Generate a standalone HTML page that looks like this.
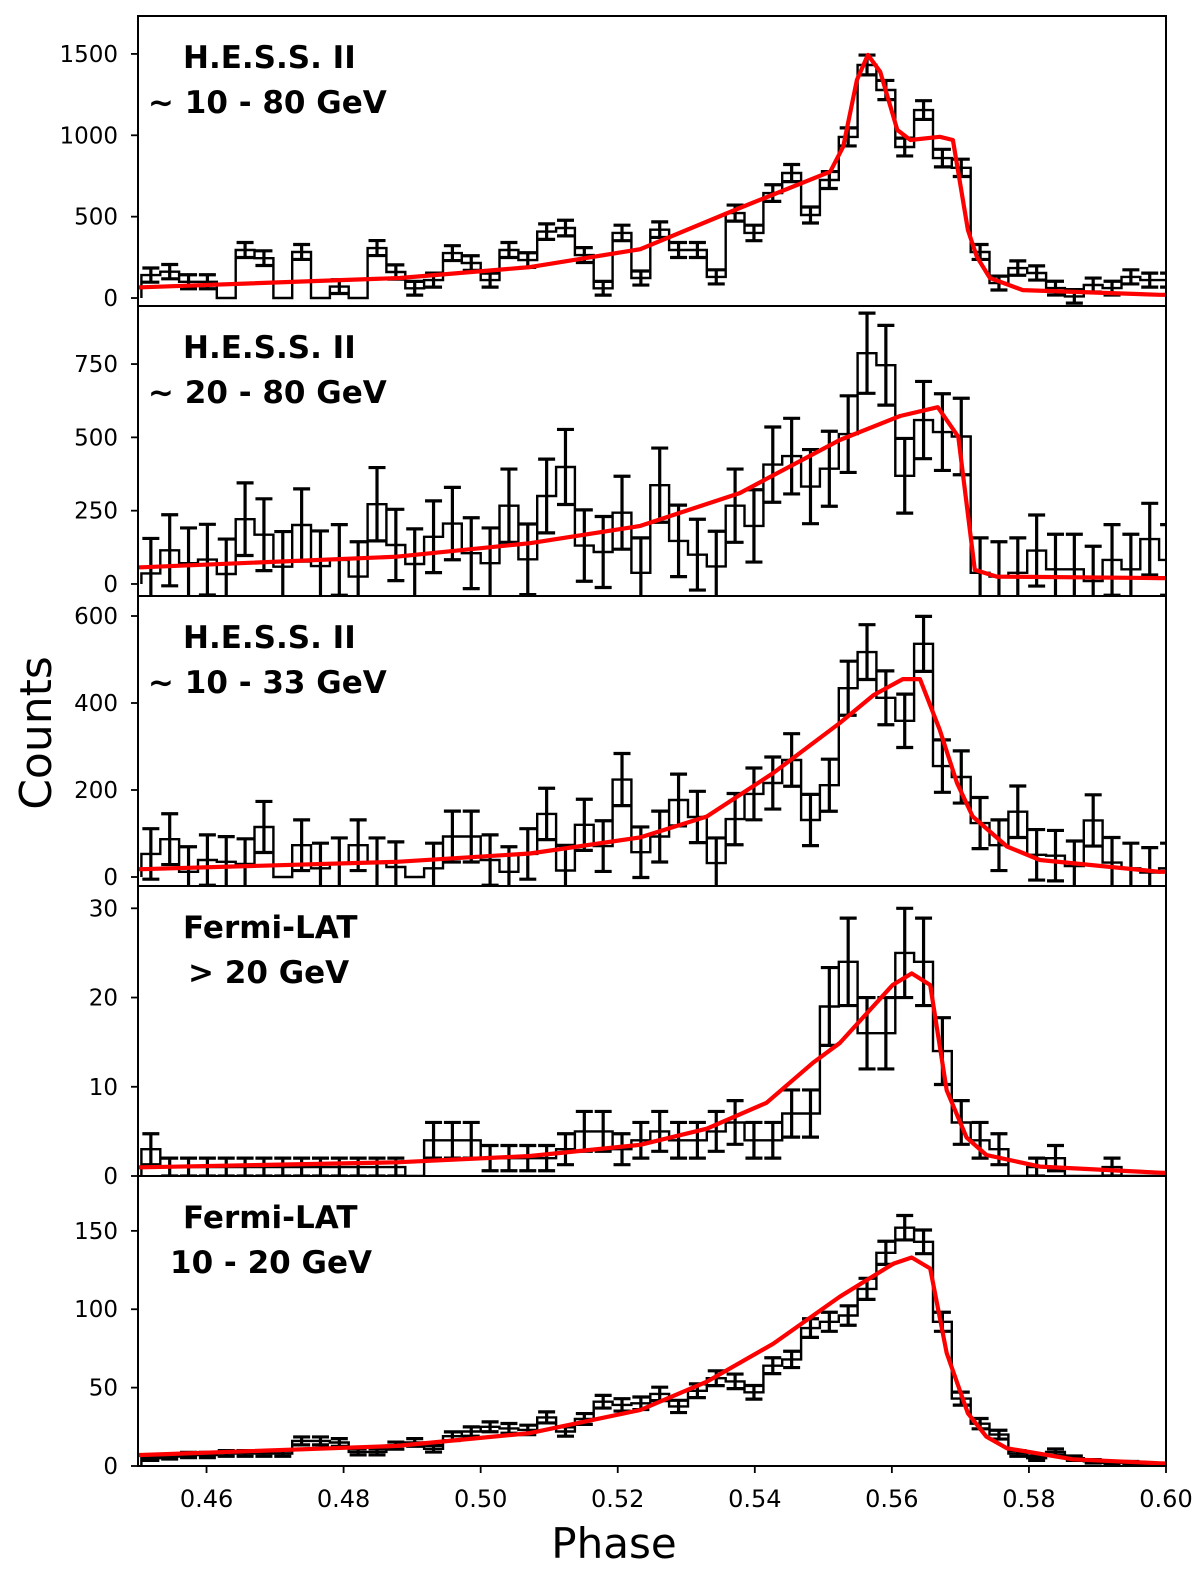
<!DOCTYPE html>
<html><head><meta charset="utf-8">
<style>
html,body{margin:0;padding:0;background:#fff;}
svg{display:block;}
text{font-family:"DejaVu Sans","Liberation Sans",sans-serif;}
</style></head>
<body>
<svg id="chart" width="1200" height="1569" viewBox="0 0 1200 1569" xmlns="http://www.w3.org/2000/svg"></svg>
<script>
// ---- data ----
const binStart = 0.4505;
const binWidth = 0.00275;
const xTicks = [0.46,0.48,0.50,0.52,0.54,0.56,0.58,0.60];
const xTickLabels = ["0.46","0.48","0.50","0.52","0.54","0.56","0.58","0.60"];

const counts1 = [141,162,100,100,0,295,245,0,283,0,70,0,307,160,60,110,276,215,110,295,233,408,430,264,60,400,123,
 420,295,295,130,522,400,645,768,510,725,990,1432,1278,928,1155,860,800,283,92,184,154,61,10,80,61,130,110,110];
const counts2 = [36,115,71,83,34,221,168,59,201,61,82,25,272,133,68,161,206,105,71,267,84,300,399,131,109,243,38,
 337,147,100,60,267,198,407,436,332,393,511,787,746,369,559,518,503,38,25,38,114,50,50,10,82,50,153,82];
const counts3 = [53,87,12,39,35,30,115,0,73,20,32,73,32,23,0,20,93,93,39,12,53,145,15,120,71,224,57,
 93,177,138,32,133,191,216,269,131,211,434,517,412,359,536,255,230,124,73,150,51,49,25,130,33,20,10,20];
const counts4 = [3,1,1,1,1,1,1,1,1,1,1,1,1,1,0,4,4,4,2,2,2,2,3,5,5,3,4,
 5,4,4,5,6,4,4,7,7,19,24,16,16,25,24,14,6,4,3,0,1,2,0,0,1,0,0,0];
const counts5 = [5,6,7,7,8,8,8,8,16,16,15,9,9,13,15,11,19,22,25,24,23,31,22,30,41,39,40,
 46,38,48,56,54,47,64,68,88,92,96,113,136,152,143,92,43,27,20,8,5,9,5,3,2,2,1,1];

const model1Phase = [0.45,0.4505,0.4882,0.5072,0.5233,0.5378,0.5510,0.5529,0.5549,0.5565,0.5583,0.5608,0.5627,0.5670,0.5689,0.5711,0.5724,0.5743,0.5791,0.5991,0.60];
const model1Val   = [65,66,123,190,300,553,776,930,1340,1494,1391,1033,971,991,971,418,254,123,49,20,20];
const model2Phase = [0.45,0.4505,0.4877,0.5072,0.5233,0.5378,0.5524,0.5612,0.5667,0.5697,0.5721,0.5753,0.5991,0.60];
const model2Val   = [57,57,93,139,198,310,491,573,603,502,48,25,20,20];
const model3Phase = [0.45,0.4505,0.4878,0.5072,0.5233,0.5330,0.5427,0.5524,0.5573,0.5616,0.5641,0.5670,0.5695,0.5718,0.5768,0.5816,0.5991,0.60];
const model3Val   = [18,18,35,54,91,139,239,354,418,455,455,338,216,139,70,39,12,12];
const model4Phase = [0.45,0.4505,0.4878,0.5072,0.5233,0.5330,0.5417,0.5485,0.5524,0.5601,0.5629,0.5656,0.5680,0.5709,0.5738,0.5816,0.5991,0.60];
const model4Val   = [0.97,0.97,1.53,2.24,3.5,5.3,8.2,12.7,14.9,21.4,22.7,21.4,9.6,4.3,2.35,1.05,0.37,0.35];
const model5Phase = [0.45,0.4505,0.4878,0.5072,0.5233,0.5330,0.5427,0.5524,0.5602,0.5629,0.5656,0.5680,0.5711,0.5738,0.5768,0.5864,0.5991,0.60];
const model5Val   = [7,7,12.8,21,35.7,53.8,78,108,129,133,126,72,33.6,18.7,11.3,4.3,1.7,1.6];

const yTicks1 = [0,500,1000,1500];
const yTicks2 = [0,250,500,750];
const yTicks3 = [0,200,400,600];
const yTicks4 = [0,10,20,30];
const yTicks5 = [0,50,100,150];

// ---- layout ----
const NS = "http://www.w3.org/2000/svg";
const svg = document.getElementById("chart");
const X0 = 138, X1 = 1166, PMIN = 0.45, PMAX = 0.60;
const PH = 290;
function xScale(p){ return X0 + (p - PMIN) / (PMAX - PMIN) * (X1 - X0); }

const panels = [
  {top:16,  ymin:-49,  ymax:1733, counts:counts1, mp:model1Phase, mv:model1Val, ticks:yTicks1, err:v=>Math.sqrt(1700+1.4*v), l1:"H.E.S.S. II", l2:"∼ 10 - 80 GeV", l1x:183, l2x:148, name:"hess-10-80"},
  {top:306, ymin:-41,  ymax:948,  counts:counts2, mp:model2Phase, mv:model2Val, ticks:yTicks2, err:v=>Math.sqrt(14000+6*v), l1:"H.E.S.S. II", l2:"∼ 20 - 80 GeV", l1x:183, l2x:148, name:"hess-20-80"},
  {top:596, ymin:-20.7,ymax:646,  counts:counts3, mp:model3Phase, mv:model3Val, ticks:yTicks3, err:v=>Math.sqrt(3300+1.3*v), l1:"H.E.S.S. II", l2:"∼ 10 - 33 GeV", l1x:183, l2x:148, name:"hess-10-33"},
  {top:886, ymin:0,    ymax:32.5, counts:counts4, mp:model4Phase, mv:model4Val, ticks:yTicks4, err:v=>Math.sqrt(v), l1:"Fermi-LAT", l2:"> 20 GeV", l1x:183, l2x:188, name:"fermi-gt20"},
  {top:1176,ymin:0,    ymax:185,  counts:counts5, mp:model5Phase, mv:model5Val, ticks:yTicks5, err:v=>Math.sqrt(0.4*v), l1:"Fermi-LAT", l2:"10 - 20 GeV", l1x:183, l2x:170, name:"fermi-10-20"}
];

function mk(tag, attrs, parent){
  const e = document.createElementNS(NS, tag);
  for (const k in attrs) e.setAttribute(k, attrs[k]);
  (parent||svg).appendChild(e);
  return e;
}

const defs = mk("defs", {});
panels.forEach((P, i) => {
  const yScale = v => P.top + PH - (v - P.ymin) / (P.ymax - P.ymin) * PH;
  const cp = mk("clipPath", {id:"clip"+i}, defs);
  mk("rect", {x:X0, y:P.top, width:X1-X0, height:PH}, cp);

  const g = mk("g", {"clip-path":"url(#clip"+i+")"});
  
  

  // step outline
  let d = "M" + xScale(binStart).toFixed(1) + "," + yScale(0).toFixed(1);
  P.counts.forEach((v, k) => {
    const xa = xScale(binStart + k * binWidth), xb = xScale(binStart + (k + 1) * binWidth);
    d += " L" + xa.toFixed(1) + "," + yScale(v).toFixed(1) + " L" + xb.toFixed(1) + "," + yScale(v).toFixed(1);
  });
  d += " L" + xScale(binStart + P.counts.length * binWidth).toFixed(1) + "," + yScale(0).toFixed(1);
  const st = mk("path", {d:d, fill:"none", stroke:"#000", "stroke-width":2.4, "stroke-linejoin":"miter"}, g);
  
  

  // error bars
  P.counts.forEach((v, k) => {
    if (v <= 0) return;
    const e = P.err(v);
    const xc = xScale(binStart + (k + 0.5) * binWidth);
    const ya = yScale(v + e), yb = yScale(v - e);
    const eg = mk("g", {stroke:"#000", "stroke-width":3.2}, g);
    
    
    mk("line", {x1:xc, x2:xc, y1:ya, y2:yb}, eg);
    mk("line", {x1:xc-8.5, x2:xc+8.5, y1:ya, y2:ya}, eg);
    mk("line", {x1:xc-8.5, x2:xc+8.5, y1:yb, y2:yb}, eg);
  });
  // model
  const pts = P.mp.map((p, k) => xScale(p).toFixed(1) + "," + yScale(P.mv[k]).toFixed(1)).join(" ");
  const ml = mk("polyline", {points:pts, fill:"none", stroke:"#ff0000", "stroke-width":4.2, "stroke-linejoin":"round"}, g);
  
  

  // y ticks
  P.ticks.forEach(t => {
    const y = yScale(t);
    const tl = mk("line", {x1:X0-7, x2:X0, y1:y, y2:y, stroke:"#000", "stroke-width":1.8});
    
    
    const tx = mk("text", {x:X0-20, y:y+8, "text-anchor":"end", "font-size":23, fill:"#000"});
    tx.textContent = String(t);
    
    
  });

  // labels
  const a = mk("text", {x:P.l1x, y:P.top+52, "font-size":31, "font-weight":"bold", fill:"#000"});
  a.textContent = P.l1;
  
  
  const b = mk("text", {x:P.l2x, y:P.top+97, "font-size":31, "font-weight":"bold", fill:"#000"});
  b.textContent = P.l2;
  
  

  // frame
  const fr = mk("rect", {x:X0, y:P.top, width:X1-X0, height:PH, fill:"none", stroke:"#000", "stroke-width":2});
  
  
});

// x ticks
const yBottom = 1466;
xTicks.forEach((t, k) => {
  const x = xScale(t);
  const tl = mk("line", {x1:x, x2:x, y1:yBottom, y2:yBottom+7, stroke:"#000", "stroke-width":1.8});
  
  
  const tx = mk("text", {x:x, y:1507, "text-anchor":"middle", "font-size":24, fill:"#000"});
  tx.textContent = xTickLabels[k];
  
  
});

const xt = mk("text", {x:614, y:1558, "text-anchor":"middle", "font-size":42, fill:"#000"});
xt.textContent = "Phase";


const yt = mk("text", {x:0, y:0, "text-anchor":"middle", "font-size":44, fill:"#000", transform:"translate(51,733) rotate(-90)"});
yt.textContent = "Counts";


</script>
</body></html>
